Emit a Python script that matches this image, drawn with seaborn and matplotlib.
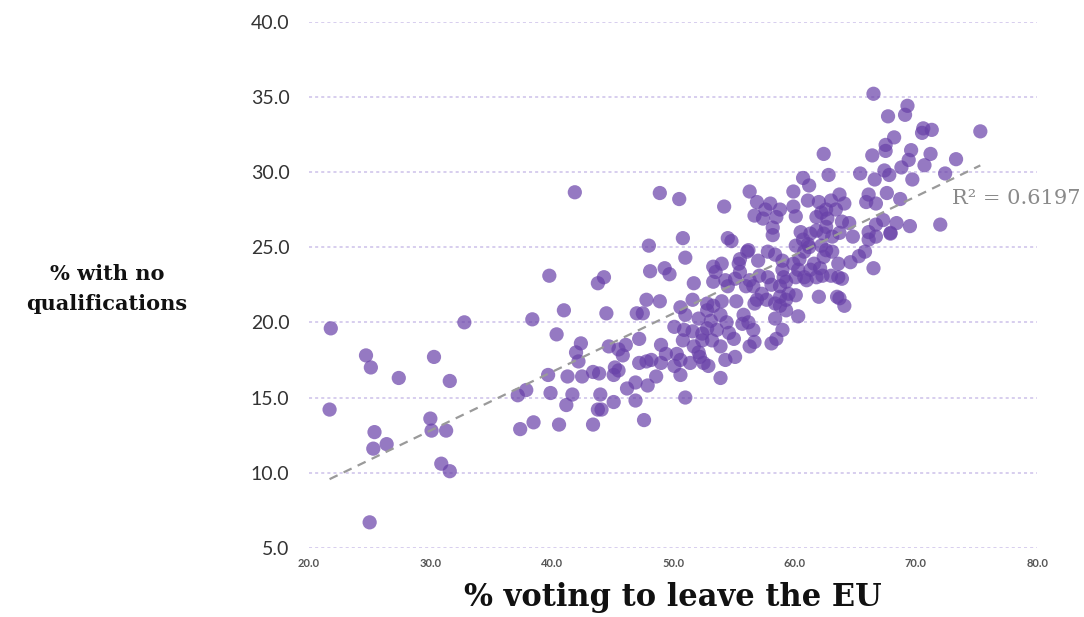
import numpy as np
import pandas as pd
import seaborn as sns
import matplotlib
matplotlib.use("Agg")
import matplotlib.pyplot as plt

# % voting to leave the EU (x) and % with no qualifications (y)
leave_pct = [
    21.8, 21.7, 24.7, 25.1, 25.4, 25.3, 26.4, 27.4, 25.0, 30.0, 30.3, 30.1, 31.3, 30.9, 31.6, 31.6,
    32.8, 37.2, 37.9, 37.4, 38.5, 38.4, 41.0, 40.4, 39.7, 39.9, 40.6, 41.3, 41.7, 41.2, 42.0, 42.4,
    42.2, 42.5, 43.4, 43.9, 44.0, 43.8, 44.1, 43.4, 44.5, 45.1, 45.1, 45.2, 44.7, 45.5, 45.85, 46.1,
    45.5, 46.2, 46.9, 46.9, 47.6, 47.2, 47.2, 47.8, 47.0, 47.5, 47.9,
    41.9, 39.8, 43.8, 44.3, 48.0, 48.1, 47.8,
    51.0, 49.3, 49.7, 51.7, 48.9, 50.6, 51.6, 53.3, 54.0, 55.4, 55.5, 56.1, 57.0, 57.8, 58.4, 53.3,
    54.3, 54.5, 56.3, 57.1, 56.6, 57.3, 58.1, 58.8, 59.3, 59.0, 59.9, 60.4, 61.0, 60.3, 61.6, 62.3,
    63.0, 62.4, 63.1, 62.0, 63.5, 56.7, 57.7, 58.4, 59.3, 60.1, 58.4, 59.0, 58.5, 58.1, 60.3, 55.2,
    55.8, 56.2, 56.6, 56.7, 56.3, 51.0, 50.1, 50.9, 51.6, 52.1, 52.8, 53.3, 54.0, 53.9, 54.4, 53.6,
    54.6, 55.0, 52.8, 52.4, 53.2, 50.8, 51.7, 49.0, 49.4, 48.2, 49.0, 50.3, 50.6, 50.1, 51.4, 52.2,
    52.9, 50.6, 48.6, 53.9, 54.3, 55.1, 51.0,
    64.8, 66.1, 66.1, 67.9, 64.6, 65.3, 66.5, 63.9, 63.7, 64.1,
    62.4, 62.8, 60.7, 61.2, 59.9, 61.1, 62.0, 63.0, 62.2, 61.8, 62.7, 63.4, 59.9, 60.1, 48.9, 50.5,
    54.2, 56.3, 56.9, 58.0, 57.6, 58.8, 56.7, 57.4, 58.5, 58.2, 58.2, 50.8, 54.5, 54.8, 56.2, 60.5,
    61.8, 62.4, 63.1, 60.1, 60.7, 61.2, 62.2, 62.6,
    66.5, 69.3, 69.1, 67.7, 75.3, 70.6, 71.3, 70.5, 68.2, 67.5, 67.5, 66.4, 69.6, 71.2, 69.4, 68.8,
    70.7, 73.3, 72.4, 65.4, 67.4, 67.8, 66.6, 69.7, 66.1, 65.9, 66.7, 67.6, 68.7, 67.3, 68.4, 69.5,
    72.0, 67.9, 64.5, 63.7, 64.1, 62.6, 63.9, 62.6, 63.7,
    55.1, 53.5, 55.5, 52.5, 52.1, 52.4, 53.1, 52.8, 53.9, 55.7, 56.0, 56.9, 58.8, 59.5, 58.8, 59.3,
    57.8, 59.1, 60.1,
    61.3, 66.7, 66.7, 61.1, 60.8, 59.0, 61.3, 62.1, 63.6, 65.8, 60.8, 61.8, 63.6,
]
no_qual_pct = [
    19.6, 14.2, 17.8, 17.0, 12.7, 11.6, 11.9, 16.3, 6.7, 13.6, 17.7, 12.8, 12.8, 10.6, 10.1, 16.1,
    20.0, 15.15, 15.5, 12.9, 13.35, 20.2, 20.8, 19.2, 16.5, 15.3, 13.2, 16.4, 15.2, 14.5, 18.0, 18.6,
    17.4, 16.4, 16.7, 16.6, 15.2, 14.2, 14.2, 13.2, 20.6, 14.7, 16.5, 17.0, 18.4, 18.2, 17.8, 18.5,
    16.8, 15.6, 16.0, 14.8, 13.5, 18.9, 17.3, 17.4, 20.6, 20.6, 15.8,
    28.65, 23.1, 22.6, 23.0, 25.1, 23.4, 21.5,
    24.3, 23.6, 23.2, 22.6, 21.4, 21.0, 21.5, 23.7, 23.9, 23.9, 24.2, 24.7, 24.1, 24.7, 24.5, 22.7,
    22.8, 22.4, 22.8, 23.1, 22.4, 21.9, 22.5, 22.4, 22.7, 23.5, 23.9, 24.2, 22.8, 23.5, 23.9, 23.1,
    23.1, 24.35, 24.7, 21.7, 21.7, 21.25, 21.5, 21.25, 21.5, 21.8, 20.25, 19.5, 18.9, 18.6, 20.4, 21.4,
    20.5, 20.0, 19.5, 18.7, 18.4, 20.5, 19.7, 19.5, 19.4, 20.25, 20.8, 21.1, 21.4, 20.5, 20.0, 19.5,
    19.3, 18.9, 19.6, 18.8, 18.8, 18.8, 18.4, 18.5, 17.9, 17.5, 17.3, 17.9, 17.5, 17.1, 17.3, 17.7,
    17.1, 16.5, 16.4, 16.3, 17.5, 17.7, 15.0,
    25.7, 25.5, 26.0, 25.95, 24.0, 24.4, 23.6, 22.9, 21.6, 21.1,
    31.2, 29.8, 29.6, 29.1, 28.7, 28.1, 28.0, 28.1, 27.3, 27.0, 26.9, 27.5, 27.7, 27.05, 28.6, 28.2,
    27.7, 28.7, 28.0, 27.9, 27.5, 27.5, 27.1, 26.9, 27.0, 26.3, 25.8, 25.6, 25.6, 25.4, 24.8, 26.0,
    26.1, 25.9, 25.7, 25.1, 25.5, 25.0, 25.1, 24.8,
    35.2, 34.4, 33.8, 33.7, 32.7, 32.9, 32.8, 32.6, 32.3, 31.8, 31.4, 31.1, 31.45, 31.2, 30.8, 30.3,
    30.45, 30.85, 29.9, 29.9, 30.1, 29.8, 29.5, 29.5, 28.5, 28.0, 27.9, 28.6, 28.2, 26.8, 26.6, 26.4,
    26.5, 25.9, 26.6, 28.5, 27.9, 27.5, 26.7, 26.35, 25.95,
    22.9, 23.35, 23.35, 17.3, 18.0, 19.25, 20.1, 21.25, 18.4, 19.9, 22.4, 21.5, 21.7, 21.9, 21.1, 20.8,
    23.0, 23.0, 23.0,
    25.9, 26.5, 25.7, 25.2, 24.7, 24.1, 23.5, 23.6, 23.9, 24.7, 23.0, 23.0, 23.0,
]
y_ticks = [5, 10, 15, 20, 25, 30, 35, 40]
x_ticks = [20, 30, 40, 50, 60, 70, 80]
r2_label = "R\u00b2 = 0.6197"

df = pd.DataFrame({"leave": leave_pct, "noqual": no_qual_pct})

sns.set_style("white")
plt.rcParams["font.family"] = ["DejaVu Sans"]

fig = plt.figure(figsize=(10.84, 6.17), dpi=100)
ax = fig.add_axes([0.285, 0.112, 0.672, 0.853])

sns.scatterplot(data=df, x="leave", y="noqual", ax=ax, color="#6840a8", alpha=0.7,
                s=105, edgecolor="none", zorder=3)
sns.regplot(data=df, x="leave", y="noqual", ax=ax, scatter=False, ci=None,
            line_kws={"color": "#9a9a9a", "lw": 1.6, "ls": (0, (4, 3)), "zorder": 4})

ax.set_xlim(20, 80)
ax.set_ylim(5, 40)
ax.set_yticks(y_ticks)
ax.set_yticklabels(["%.1f" % v for v in y_ticks], fontsize=14, color="#333333",
                   family="Lato")
ax.set_xticks(x_ticks)
ax.set_xticklabels(["%.1f" % v for v in x_ticks], fontsize=8, color="#555555",
                   family="Lato", fontweight="bold")
ax.tick_params(axis="y", length=0, pad=14)
ax.tick_params(axis="x", length=0, pad=7)

ax.yaxis.grid(True, color="#cdc1ea", lw=1.1, ls=(0, (2, 2)))
ax.xaxis.grid(False)
for sp in ax.spines.values():
    sp.set_visible(False)

ax.set_xlabel("% voting to leave the EU", fontsize=22, fontweight="bold",
              family="DejaVu Serif", color="#111111")
ax.xaxis.set_label_coords(0.5, -0.095)
ax.xaxis.label.set_va("center")
ax.set_ylabel("% with no\nqualifications", fontsize=15, fontweight="bold",
              family="DejaVu Serif", rotation=0, color="#111111", linespacing=1.6)
ax.yaxis.set_label_coords(-0.277, 0.492)
ax.yaxis.label.set_va("center")
ax.yaxis.label.set_ha("center")

ax.text(73.0, 28.26, r2_label, fontsize=15, color="#8a8a8a", va="center", ha="left",
        family="DejaVu Serif")

fig.savefig("out.png", dpi=100)
